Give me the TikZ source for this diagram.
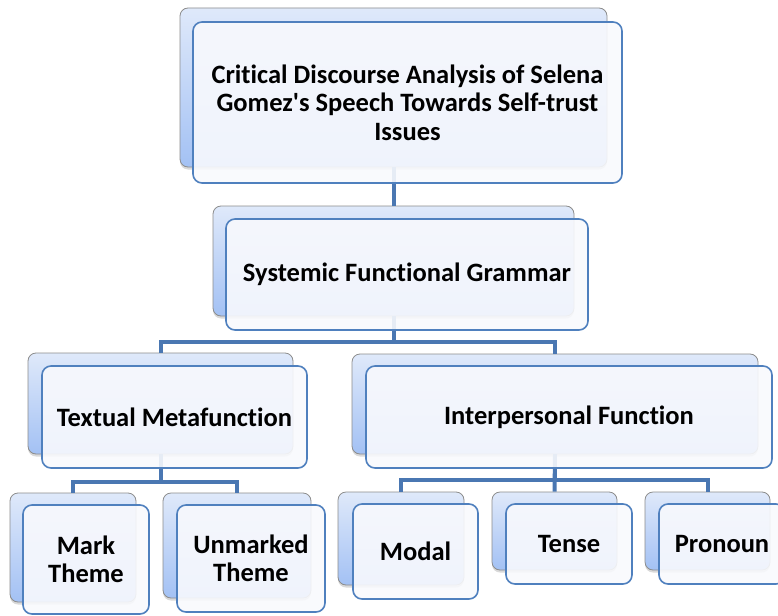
\documentclass[tikz,border=0pt]{standalone}
\usepackage{fontspec}
\setmainfont{Carlito}[Ligatures=NoCommon]
\usetikzlibrary{shadows}
\definecolor{connblue}{HTML}{4A77B2}
\definecolor{frontborder}{HTML}{4F80BE}
\definecolor{frontfill}{HTML}{F8F9FD}
\definecolor{backtop}{HTML}{DFE9FA}
\definecolor{backbot}{HTML}{A3C1F4}
\begin{document}
\begin{tikzpicture}[x=1pt,y=-1pt,
  conn/.style={draw=connblue,line width=4pt},
  backbox/.style={draw=black!45,line width=0.8pt,rounded corners=8pt,top color=backtop,bottom color=backbot,
     drop shadow={shadow xshift=0pt,shadow yshift=-2.5pt,opacity=0.3},inner sep=0pt},
  frontbox/.style={draw=frontborder,line width=1.6pt,rounded corners=9pt,fill=frontfill,fill opacity=0.9,text opacity=1,
     inner sep=0pt,align=center,font=\fontsize{26.5}{28.5}\selectfont\bfseries}]
\useasboundingbox (0,0) rectangle (778,615);
% back boxes
\node[backbox,minimum width=427pt,minimum height=159pt] (topb) at (393.5,87.5) {};
\node[backbox,minimum width=361pt,minimum height=110pt] (sfgb) at (393.5,261) {};
\node[backbox,minimum width=265pt,minimum height=101pt] (textb) at (160.5,403.5) {};
\node[backbox,minimum width=406pt,minimum height=100pt] (intb) at (555,404) {};
\node[backbox,minimum width=126pt,minimum height=109pt] (markb) at (73,547.5) {};
\node[backbox,minimum width=148pt,minimum height=105pt] (unmb) at (237,545.5) {};
\node[backbox,minimum width=126pt,minimum height=93pt] (modalb) at (401,538.5) {};
\node[backbox,minimum width=125pt,minimum height=78pt] (tenseb) at (554.5,531) {};
\node[backbox,minimum width=125pt,minimum height=78pt] (pronb) at (707.5,531) {};
% connectors
\draw[conn] (topb.south) -- (sfgb.north);
\draw[conn] (sfgb.south) -- ++(0,26) -| (textb.north);
\draw[conn] (sfgb.south) -- ++(0,26) -| (intb.north);
\draw[conn] (textb.south) -- ++(0,28) -| (markb.north);
\draw[conn] (textb.south) -- ++(0,28) -| (unmb.north);
\draw[conn] (intb.south) -- ++(0,26) -| (modalb.north);
\draw[conn] (intb.south) -- (tenseb.north);
\draw[conn] (intb.south) -- ++(0,26) -| (pronb.north);
% front boxes
\node[frontbox,minimum width=429pt,minimum height=161pt] (top) at (407.5,102.5) {Critical Discourse Analysis of Selena\\Gomez\textquotesingle s Speech Towards Self-trust\\Issues};
\node[frontbox,minimum width=362pt,minimum height=111pt] (sfg) at (407,274.5) {Systemic Functional Grammar};
\node[frontbox,minimum width=265pt,minimum height=102pt] (text) at (174.5,417) {Textual Metafunction};
\node[frontbox,minimum width=406pt,minimum height=102pt] (int) at (569,417) {Interpersonal Function};
\node[frontbox,minimum width=126pt,minimum height=109pt] (mark) at (86,559.5) {Mark\\Theme};
\node[frontbox,minimum width=148pt,minimum height=107pt] (unm) at (251,558.5) {Unmarked\\Theme};
\node[frontbox,minimum width=125pt,minimum height=95pt] (modal) at (415.5,551.5) {Modal};
\node[frontbox,minimum width=126pt,minimum height=80pt] (tense) at (569,544) {Tense};
\node[frontbox,minimum width=126pt,minimum height=80pt] (pron) at (722,544) {Pronoun};
\end{tikzpicture}
\end{document}
